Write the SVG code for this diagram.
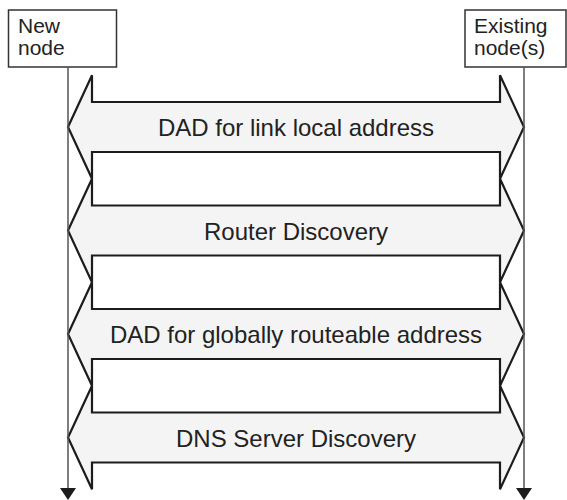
<svg xmlns="http://www.w3.org/2000/svg" width="567" height="500" viewBox="0 0 567 500">
<style>
.box{fill:#fff;stroke:#333;stroke-width:1.5}
.lbl{font-family:"Liberation Sans",Arial,sans-serif;font-size:21px;fill:#222}
.arr{fill:#f4f4f4;stroke:#1c1c1c;stroke-width:2.2;stroke-linejoin:miter}
.txt{font-family:"Liberation Sans",Arial,sans-serif;font-size:24px;fill:#222;text-anchor:middle}
.life{stroke:#555;stroke-width:1.5;fill:none}
.head{fill:#1c1c1c}
</style>
<rect width="567" height="500" fill="#fff"/>
<g id="node-new">
<rect class="box" x="8.5" y="10" width="108" height="57"/>
<text class="lbl" x="18" y="33">New</text>
<text class="lbl" x="18" y="55">node</text>
</g>
<g id="node-existing">
<rect class="box" x="465" y="10" width="101" height="57"/>
<text class="lbl" x="474" y="33">Existing</text>
<text class="lbl" x="474" y="55">node(s)</text>
</g>
<g id="connectors">
<g id="msg-dad-link">
<polygon class="arr" points="68,127 92,75.25 92,102 500,102 500,75.25 524,127 500,178.75 500,152 92,152 92,178.75"/>
<text class="txt" x="296" y="136">DAD for link local address</text>
</g>
<g id="msg-router">
<polygon class="arr" points="68,230.5 92,178.75 92,205.5 500,205.5 500,178.75 524,230.5 500,282.25 500,255.5 92,255.5 92,282.25"/>
<text class="txt" x="296" y="239.5">Router Discovery</text>
</g>
<g id="msg-dad-global">
<polygon class="arr" points="68,334 92,282.25 92,309 500,309 500,282.25 524,334 500,385.75 500,359 92,359 92,385.75"/>
<text class="txt" x="296" y="343">DAD for globally routeable address</text>
</g>
<g id="msg-dns">
<polygon class="arr" points="68,437.5 92,385.75 92,412.5 500,412.5 500,385.75 524,437.5 500,489.25 500,462.5 92,462.5 92,489.25"/>
<text class="txt" x="296" y="446.5">DNS Server Discovery</text>
</g>
<line class="life" x1="68" y1="67" x2="68" y2="489"/>
<line class="life" x1="524" y1="67" x2="524" y2="489"/>
<polygon class="head" points="60,488 76,488 68,500"/>
<polygon class="head" points="516,488 532,488 524,500"/>
</g>
</svg>
